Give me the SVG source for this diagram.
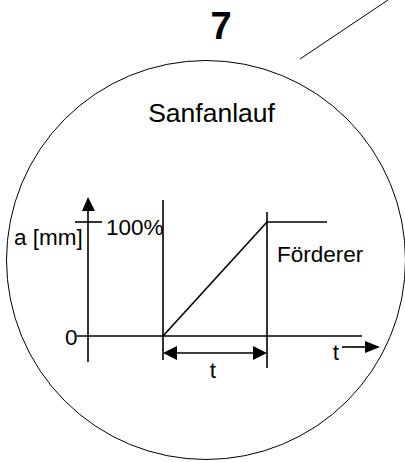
<svg xmlns="http://www.w3.org/2000/svg" width="405" height="462" viewBox="0 0 405 462">
<style>
.ln{stroke:#000;stroke-width:1.6;fill:none}
.thin{stroke:#000;stroke-width:1;fill:none}
.ah{fill:#000;stroke:none}
text{font-family:"Liberation Sans",Arial,sans-serif;fill:#000}
.lbl{font-size:22.5px}
</style>
<rect width="405" height="462" fill="#fff"/>
<g id="lens">
<circle class="thin" cx="206" cy="260" r="199.5"/>
</g>
<g id="number">
<text x="221" y="39" font-size="38" font-weight="bold" text-anchor="middle">7</text>
</g>
<g id="title">
<text x="211.5" y="122" font-size="26.5" text-anchor="middle">Sanfanlauf</text>
</g>
<g id="connectors">
<line class="thin" x1="300" y1="59" x2="388" y2="0"/>
<line class="ln" x1="88" y1="208" x2="88" y2="362"/>
<polygon class="ah" points="88,197 82,211 95,211"/>
<line class="ln" x1="75" y1="222" x2="102" y2="222"/>
<line class="ln" x1="77" y1="336" x2="362" y2="336"/>
<line class="ln" x1="163" y1="200" x2="163" y2="360"/>
<line class="ln" x1="267" y1="212" x2="267" y2="368"/>
<line class="ln" x1="163" y1="336" x2="267" y2="222"/>
<line class="ln" x1="267" y1="222" x2="327" y2="222"/>
<line class="ln" x1="175" y1="353" x2="255" y2="353"/>
<polygon class="ah" points="163,353 177,346 177,360"/>
<polygon class="ah" points="267,353 253,346 253,360"/>
<line class="ln" x1="342" y1="347" x2="367" y2="347"/>
<polygon class="ah" points="380,347 365,341 365,353"/>
</g>
<g id="labels">
<text class="lbl" x="106" y="235">100%</text>
<text class="lbl" x="14" y="245">a [mm]</text>
<text class="lbl" x="65" y="345">0</text>
<text class="lbl" x="277" y="262">Förderer</text>
<text class="lbl" x="213" y="378" text-anchor="middle">t</text>
<text class="lbl" x="336" y="360" text-anchor="middle">t</text>
</g>
</svg>
